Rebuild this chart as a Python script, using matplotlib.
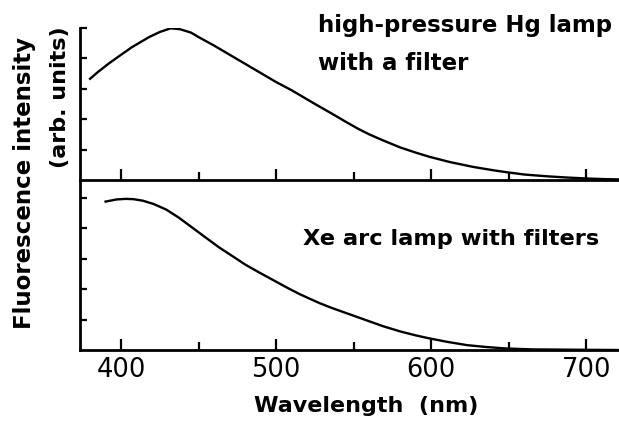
import matplotlib
matplotlib.use('Agg')
import matplotlib.pyplot as plt

# 고압 수은램프 + 필터 (윗 패널)
hg_wl = [380, 385, 392, 400, 407, 418, 425, 432, 438, 445, 450, 460, 470, 480,
         490, 500, 510, 515, 525, 536, 545, 553, 560, 569, 580, 590, 599, 612,
         627, 640, 648, 660, 675, 688, 700, 711, 721]
hg_val = [3.33, 3.55, 3.83, 4.12, 4.37, 4.70, 4.87, 4.99, 4.96, 4.85, 4.70, 4.42,
          4.12, 3.82, 3.52, 3.22, 2.95, 2.80, 2.50, 2.18, 1.91, 1.68, 1.50, 1.30,
          1.07, 0.90, 0.76, 0.59, 0.43, 0.32, 0.26, 0.18, 0.12, 0.08, 0.05, 0.03, 0.02]

# Xe 아크램프 + 필터 (아래 패널)
xe_wl = [390, 397, 403, 408, 414, 421, 429, 437, 446, 455, 463, 472, 480, 489,
         498, 507, 515, 521, 528, 536, 547, 558, 569, 580, 590, 598, 610, 623,
         635, 648, 665, 690, 720]
xe_val = [4.88, 4.95, 4.97, 4.96, 4.91, 4.80, 4.62, 4.36, 4.02, 3.68, 3.38, 3.08,
          2.81, 2.55, 2.30, 2.05, 1.84, 1.70, 1.54, 1.38, 1.18, 0.98, 0.78, 0.61,
          0.48, 0.39, 0.27, 0.16, 0.10, 0.05, 0.02, 0.01, 0.0]

major_x = [400, 500, 600, 700]
minor_x = [450, 550, 650]
y_ticks = [1, 2, 3, 4, 5]

plt.rcParams['font.family'] = ['DejaVu Sans']

W, H = 619, 430
fig = plt.figure(figsize=(W / 100, H / 100), dpi=100)

def px(x0, y0, x1, y1):
    # 픽셀 좌표 -> figure 비율
    return [x0 / W, 1 - y1 / H, (x1 - x0) / W, (y1 - y0) / H]

ax_top = fig.add_axes(px(80, 28, 619, 180))
ax_bot = fig.add_axes(px(80, 180, 619, 350))

for ax in (ax_top, ax_bot):
    ax.set_xlim(373.5, 721)
    for s in ('top', 'right'):
        ax.spines[s].set_visible(False)
    for s in ('left', 'bottom'):
        ax.spines[s].set_linewidth(2)
    ax.set_xticks(major_x)
    ax.set_xticks(minor_x, minor=True)
    ax.set_yticks(y_ticks)
    ax.set_yticklabels([])
    ax.tick_params(axis='x', which='major', direction='in', length=8, width=1.6)
    ax.tick_params(axis='x', which='minor', direction='in', length=5.5, width=1.6)
    ax.tick_params(axis='y', direction='in', length=5, width=1.6)
    ax.set_facecolor('none')

ax_top.set_ylim(0, 5)
ax_bot.set_ylim(0, 5.59)

ax_top.plot(hg_wl, hg_val, color='black', lw=1.7)
ax_bot.plot(xe_wl, xe_val, color='black', lw=1.7)

ax_top.set_xticklabels([])
ax_bot.set_xticklabels([str(v) for v in major_x], fontsize=18.5)
ax_bot.tick_params(axis='x', which='major', pad=5)

fig.text(366 / W, 1 - 412 / H, 'Wavelength  (nm)', fontsize=16, fontweight='bold',
         ha='center', va='baseline')
fig.text(25 / W, 1 - 183 / H, 'Fluorescence intensity', fontsize=16.5, fontweight='bold',
         ha='center', va='center', rotation=90)
fig.text(60 / W, 1 - 97 / H, '(arb. units)', fontsize=16, fontweight='bold',
         ha='center', va='center', rotation=90)

fig.text(318 / W, 1 - 32 / H, 'high-pressure Hg lamp', fontsize=16.5, fontweight='bold',
         ha='left', va='baseline')
fig.text(318 / W, 1 - 70 / H, 'with a filter', fontsize=16.5, fontweight='bold',
         ha='left', va='baseline')
fig.text(303 / W, 1 - 245 / H, 'Xe arc lamp with filters', fontsize=16.2, fontweight='bold',
         ha='left', va='baseline')

plt.savefig('out.png', dpi=100)
plt.close()
